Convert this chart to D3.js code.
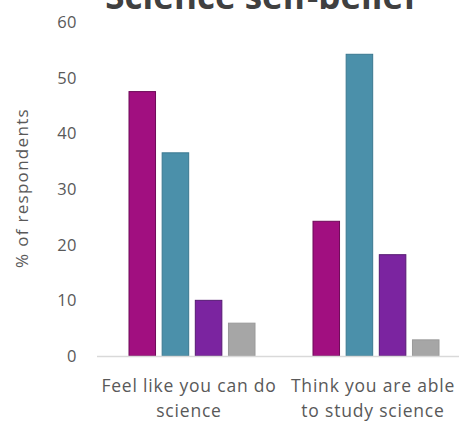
<!DOCTYPE html>
<html>
<head>
<meta charset="utf-8">
<script src="https://cdn.jsdelivr.net/npm/d3@7"></script>
<style>
body{margin:0;background:#fff;}
</style>
</head>
<body>
<div id="chart-area"></div>
<script>
var categories=[["Feel like you can do","science"],["Think you are able","to study science"]];
var series=["s1","s2","s3","s4"];
var values=[[47.5,36.5,10,5.9],[24.2,54.2,18.2,2.9]];
var yTicks=[0,10,20,30,40,50,60];
var colors=["#a10f80","#4b90aa","#7b24a0","#a6a6a6"];
var strokes=["#6e0a58","#3a7890","#561a72","#9a9a9a"];

var width=459, height=423;
var font="'Open Sans', sans-serif";

var svg=d3.select("#chart-area").append("svg")
    .attr("width",width)
    .attr("height",height);

var x0=d3.scaleBand()
    .domain(d3.range(categories.length))
    .range([100,468]);

var x1=d3.scaleBand()
    .domain(series)
    .range([29,155])
    .paddingInner(0.2);

var y=d3.scaleLinear()
    .domain([0,60])
    .range([356,22]);

// title (top is clipped in the original too)
svg.append("text")
    .attr("x",261)
    .attr("y",9)
    .attr("text-anchor","middle")
    .attr("font-family",font)
    .attr("font-weight","bold")
    .attr("font-size","35px")
    .attr("fill","#404040")
    .text("Science self-belief");

// y tick labels
svg.selectAll(".ytick")
    .data(yTicks)
    .enter().append("text")
    .attr("class","ytick")
    .attr("x",77)
    .attr("y",(d)=>{return y(d)+6;})
    .attr("text-anchor","end")
    .attr("font-family",font)
    .attr("font-size","16.5px")
    .attr("letter-spacing","0.5px")
    .attr("fill","#595959")
    .text((d)=>{return d;});

svg.append("text")
    .attr("transform","translate(28,188) rotate(-90)")
    .attr("text-anchor","middle")
    .attr("font-family",font)
    .attr("font-size","17px")
    .attr("letter-spacing","1.3px")
    .attr("fill","#595959")
    .text("% of respondents");

// bars
var groups=svg.selectAll(".grp")
    .data(values)
    .enter().append("g")
    .attr("class","grp")
    .attr("transform",(d,i)=>{return "translate("+x0(i)+",0)";});

groups.selectAll("rect")
    .data((d)=>{return d.map((v,j)=>{return {key:series[j],value:v,j:j};});})
    .enter().append("rect")
    .attr("x",(d)=>{return x1(d.key);})
    .attr("y",(d)=>{return y(d.value);})
    .attr("width",x1.bandwidth())
    .attr("height",(d)=>{return y(0)-y(d.value);})
    .attr("fill",(d)=>{return colors[d.j];})
    .attr("stroke",(d)=>{return strokes[d.j];})
    .attr("stroke-width",1);

// baseline
svg.append("line")
    .attr("x1",97)
    .attr("x2",width)
    .attr("y1",y(0)+0.5)
    .attr("y2",y(0)+0.5)
    .attr("stroke","#d9d9d9")
    .attr("stroke-width",1.5);

// category labels
categories.forEach((lines,i)=>{
    var cx=x0(i)+(x1.range()[0]+x1.range()[1])/2-3;
    lines.forEach((t,k)=>{
        svg.append("text")
            .attr("x",cx)
            .attr("y",392+k*25)
            .attr("text-anchor","middle")
            .attr("font-family",font)
            .attr("font-size","17.5px")
            .attr("letter-spacing","0.8px")
            .attr("fill","#595959")
            .text(t);
    });
});
</script>
</body>
</html>
